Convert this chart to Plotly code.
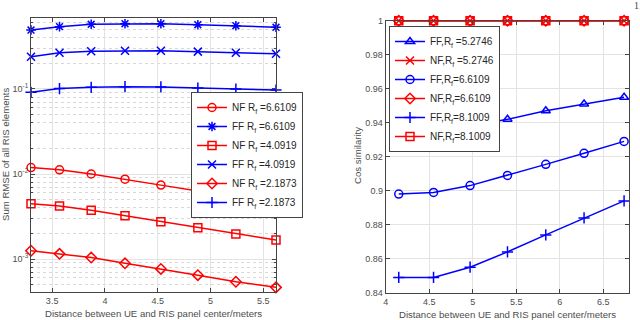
import plotly.graph_objects as go

# left panel: sum RMSE vs distance (log scale)
dist_left = [3.30, 3.57, 3.87, 4.19, 4.53, 4.88, 5.24, 5.62]
nf_66 = [0.0119, 0.0112, 0.0100, 0.0087, 0.0074, 0.0063, 0.0053, 0.0045]
ff_66 = [0.494, 0.541, 0.577, 0.586, 0.586, 0.570, 0.555, 0.532]
nf_41 = [0.00448, 0.00421, 0.00374, 0.00323, 0.00275, 0.00233, 0.00197, 0.00167]
ff_41 = [0.240, 0.267, 0.278, 0.282, 0.282, 0.275, 0.267, 0.260]
nf_22 = [0.00125, 0.00115, 0.00104, 0.00089, 0.000765, 0.000646, 0.00054, 0.000464]
ff_22 = [0.0914, 0.101, 0.1047, 0.1065, 0.1056, 0.1027, 0.100, 0.0973]
log_tickvals = [0.001, 0.01, 0.1]
log_ticktext = ["10<sup>-3</sup>", "10<sup>-2</sup>", "10<sup>-1</sup>"]

# right panel: cos similarity vs distance
dist_right = [4.15, 4.55, 4.97, 5.40, 5.84, 6.28, 6.74]
ff_53 = [0.935, 0.9355, 0.938, 0.942, 0.947, 0.951, 0.955]
nf_53 = [1.0, 1.0, 1.0, 1.0, 1.0, 1.0, 1.0]
ff_66r = [0.898, 0.899, 0.903, 0.909, 0.9155, 0.922, 0.929]
nf_66r = [1.0, 1.0, 1.0, 1.0, 1.0, 1.0, 1.0]
ff_81 = [0.849, 0.849, 0.855, 0.864, 0.874, 0.884, 0.894]
nf_81 = [1.0, 1.0, 1.0, 1.0, 1.0, 1.0, 1.0]

RED = "#FF0000"
BLUE = "#0000FF"
W, H = 640, 320


def px_x(p):
    return p / W


def px_y(p):
    return 1 - p / H


fig = go.Figure()

left_series = [
    ("NF R<sub>f</sub> =6.6109", nf_66, RED, "circle-open"),
    ("FF R<sub>f</sub> =6.6109", ff_66, BLUE, "asterisk-open"),
    ("NF R<sub>f</sub> =4.0919", nf_41, RED, "square-open"),
    ("FF R<sub>f</sub> =4.0919", ff_41, BLUE, "x-thin-open"),
    ("NF R<sub>f</sub> =2.1873", nf_22, RED, "diamond-open"),
    ("FF R<sub>f</sub> =2.1873", ff_22, BLUE, "cross-thin-open"),
]
for name, vals, col, sym in left_series:
    fig.add_trace(
        go.Scatter(
            x=dist_left, y=vals, name=name, mode="lines+markers",
            line=dict(color=col, width=1.5),
            marker=dict(symbol=sym, size=8, color=col, line=dict(color=col, width=1.5)),
            xaxis="x", yaxis="y", legend="legend", cliponaxis=False,
        )
    )

right_series = [
    ("FF,R<sub>f</sub> =5.2746", ff_53, BLUE, "triangle-up-open"),
    ("NF,R<sub>f</sub> =5.2746", nf_53, RED, "x-thin-open"),
    ("FF,R<sub>f</sub>=6.6109", ff_66r, BLUE, "circle-open"),
    ("NF,R<sub>f</sub>=6.6109", nf_66r, RED, "diamond-open"),
    ("FF,R<sub>f</sub>=8.1009", ff_81, BLUE, "cross-thin-open"),
    ("NF,R<sub>f</sub>=8.1009", nf_81, RED, "square-open"),
]
for name, vals, col, sym in right_series:
    fig.add_trace(
        go.Scatter(
            x=dist_right, y=vals, name=name, mode="lines+markers",
            line=dict(color=col, width=1.5),
            marker=dict(symbol=sym, size=8, color=col, line=dict(color=col, width=1.5)),
            xaxis="x2", yaxis="y2", legend="legend2", cliponaxis=False,
        )
    )

axis_common = dict(
    showline=True, linecolor="#444", linewidth=1, mirror="ticks",
    ticks="inside", ticklen=4, tickcolor="#444",
    showgrid=True, gridcolor="#e3e3e3", zeroline=False,
    tickfont=dict(family="Liberation Sans", size=9, color="#4d4d4d"),
    automargin=False,
)
legend_common = dict(
    xanchor="left", yanchor="top",
    bgcolor="white", bordercolor="#444", borderwidth=1,
    font=dict(family="Liberation Sans", size=10, color="#262626"),
    tracegroupgap=0, itemwidth=30,
)

fig.update_layout(
    width=W, height=H,
    margin=dict(l=0, r=0, t=0, b=0, autoexpand=False),
    paper_bgcolor="white", plot_bgcolor="white",
    font=dict(family="Liberation Sans", color="#262626"),
    xaxis=dict(domain=[px_x(31), px_x(276)], range=[3.3, 5.62], anchor="y",
               dtick=0.5, **axis_common),
    yaxis=dict(domain=[px_y(292), px_y(18)], type="log", range=[-3.388, -0.165],
               anchor="x", tickvals=log_tickvals, ticktext=log_ticktext,
               minor=dict(dtick="D1", ticks="inside", ticklen=2, tickcolor="#444",
                          showgrid=True, gridcolor="#d8d8d8", griddash="dot"),
               **axis_common),
    xaxis2=dict(domain=[px_x(385.7), px_x(629.3)], range=[4, 6.8], anchor="y2",
                dtick=0.5, **axis_common),
    yaxis2=dict(domain=[px_y(292.7), px_y(20.7)], range=[0.84, 1.0], anchor="x2",
                dtick=0.02, **axis_common),
    legend=dict(x=px_x(191), y=px_y(92), **legend_common),
    legend2=dict(x=px_x(389), y=px_y(26), **legend_common),
    showlegend=True,
)

title_font = dict(family="Liberation Sans", size=9.6, color="#4d4d4d")
axis_titles = [
    ("Distance between UE and RIS panel center/meters", 153, 313, 0),
    ("Distance between UE and RIS panel center/meters", 507, 314, 0),
    ("Sum RMSE of all RIS elements", 5, 155, -90),
    ("Cos similarity", 357, 156, -90),
]
for text, tx, ty, ang in axis_titles:
    fig.add_annotation(text=text, x=px_x(tx), y=px_y(ty), xref="paper", yref="paper",
                       xanchor="center", yanchor="middle", textangle=ang,
                       showarrow=False, font=title_font)

fig.add_annotation(text="11", x=px_x(632), y=px_y(5), xref="paper", yref="paper",
                   xanchor="left", yanchor="middle", showarrow=False,
                   font=dict(family="Liberation Serif", size=10, color="#444"))

# drop the default page margin so the figure sits at the window's corner
fig.write_html("out.html", config={"displayModeBar": False},
               post_script="document.body.style.margin='0';")
